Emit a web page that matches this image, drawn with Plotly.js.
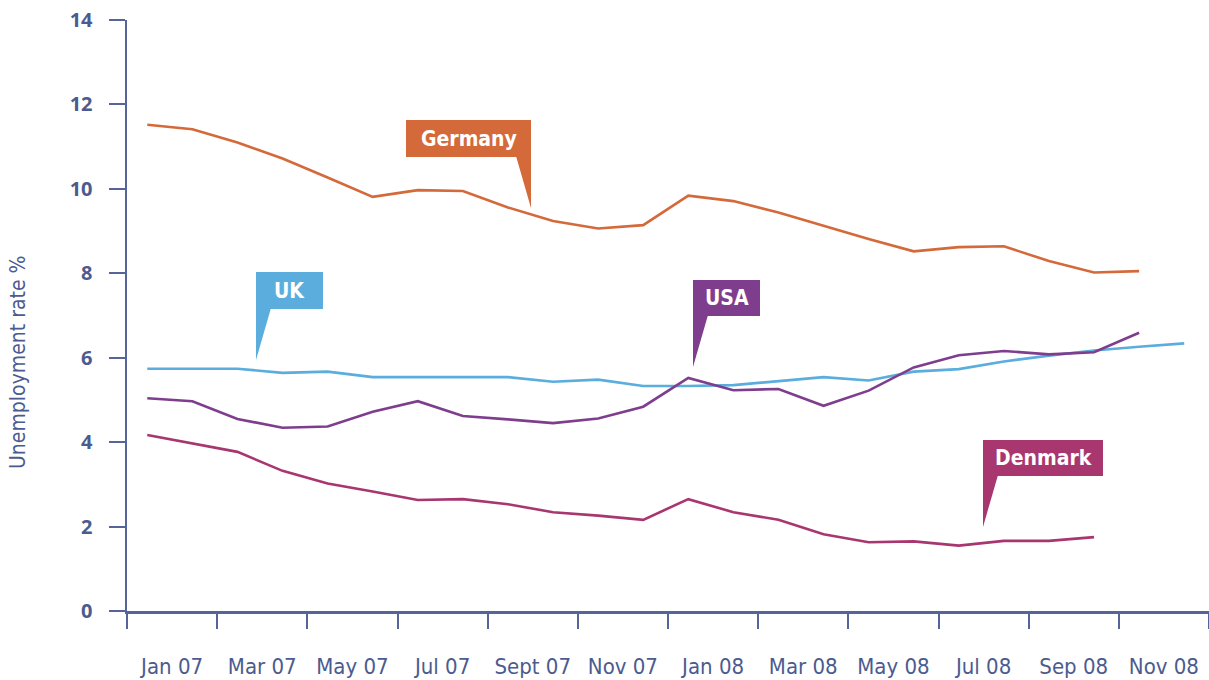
<!DOCTYPE html>
<html>
<head>
<meta charset="utf-8">
<script src="https://cdn.plot.ly/plotly-3.0.1.min.js"></script>
<style>
  body { margin: 0; background: #fff; }
  #chart { width: 1209px; height: 680px; }
</style>
</head>
<body>
<div id="chart"></div>
<script>
// monthly unemployment rate %, Jan 07 .. Dec 08
var months = ["Jan 07","Feb 07","Mar 07","Apr 07","May 07","Jun 07","Jul 07","Aug 07","Sep 07","Oct 07","Nov 07","Dec 07",
              "Jan 08","Feb 08","Mar 08","Apr 08","May 08","Jun 08","Jul 08","Aug 08","Sep 08","Oct 08","Nov 08","Dec 08"];
var germany = [11.52,11.41,11.10,10.72,10.27,9.81,9.97,9.95,9.56,9.24,9.06,9.14,9.84,9.71,9.44,9.12,8.81,8.52,8.62,8.64,8.29,8.02,8.05];
var uk      = [5.74,5.74,5.74,5.64,5.67,5.54,5.54,5.54,5.54,5.43,5.48,5.33,5.33,5.35,5.44,5.54,5.46,5.67,5.73,5.91,6.05,6.17,6.26,6.34];
var usa     = [5.04,4.97,4.55,4.34,4.37,4.72,4.97,4.62,4.54,4.45,4.56,4.84,5.52,5.23,5.26,4.86,5.22,5.77,6.06,6.16,6.08,6.13,6.59];
var denmark = [4.17,3.97,3.77,3.32,3.02,2.83,2.63,2.65,2.53,2.34,2.26,2.16,2.65,2.34,2.16,1.82,1.63,1.65,1.55,1.66,1.66,1.75];
var tickLabels = ["Jan 07","Mar 07","May 07","Jul 07","Sept 07","Nov 07","Jan 08","Mar 08","May 08","Jul 08","Sep 08","Nov 08"];

var axisCol = "#56649a";
var textCol = "#4b5b8f";
var narrow = "Liberation Sans Narrow, DejaVu Sans Condensed, sans-serif";

function idx(arr) { return arr.map(function(v, i) { return i; }); }

var tickPos = [], labelPos = [];
for (var k = 0; k <= 12; k++) tickPos.push(-0.45 + 2 * k);
for (var k = 0; k < tickLabels.length; k++) labelPos.push(0.55 + 2 * k);

function line(name, y, color) {
  return { x: idx(y), y: y, name: name, type: "scatter", mode: "lines",
           line: { color: color, width: 2.6 }, hoverinfo: "x+y+name" };
}

var data = [
  line("Germany", germany, "#d4693a"),
  line("UK", uk, "#5aaddd"),
  line("USA", usa, "#7e3e8d"),
  line("Denmark", denmark, "#a8366f"),
  { x: labelPos, y: labelPos.map(function() { return null; }), xaxis: "x2", mode: "markers",
    showlegend: false, hoverinfo: "skip" }
];

// plot area in pixels: left 127, right 1209, top 20, bottom 611
function px(x) { return (x - 127) / 1082; }
function py(y) { return (611 - y) / 591; }

var shapes = [], annotations = [];
function callout(text, color, x0, y0, x1, y1, tri) {
  shapes.push({ type: "rect", xref: "paper", yref: "paper", x0: px(x0), x1: px(x1), y0: py(y0), y1: py(y1),
                fillcolor: color, line: { width: 0 } });
  var p = "M" + px(tri[0][0]) + "," + py(tri[0][1]) + " L" + px(tri[1][0]) + "," + py(tri[1][1]) +
          " L" + px(tri[2][0]) + "," + py(tri[2][1]) + " Z";
  shapes.push({ type: "path", xref: "paper", yref: "paper", path: p, fillcolor: color, line: { width: 0 } });
  annotations.push({ xref: "paper", yref: "paper", x: px((x0 + x1) / 2), y: py((y0 + y1) / 2),
                     text: text, showarrow: false, xanchor: "center", yanchor: "middle",
                     font: { family: narrow, size: 21, color: "#ffffff", weight: "bold" } });
}
callout("Germany", "#d4693a", 406, 120, 531, 157, [[516, 156], [531, 156], [531, 208]]);
callout("UK", "#5aaddd", 256, 272, 323, 309, [[256, 308], [271, 308], [256, 360]]);
callout("USA", "#7e3e8d", 693, 280, 760, 316, [[693, 315], [708, 315], [693, 367]]);
callout("Denmark", "#a8366f", 983, 440, 1103, 476, [[983, 475], [998, 475], [983, 527]]);

annotations.push({ xref: "paper", yref: "paper", x: px(18), y: py(362), textangle: -90,
                   text: "Unemployment rate %", showarrow: false, xanchor: "center", yanchor: "middle",
                   font: { family: narrow, size: 21, color: textCol } });

var layout = {
  width: 1209, height: 680,
  margin: { l: 127, r: 0, t: 20, b: 69 },
  paper_bgcolor: "#ffffff", plot_bgcolor: "#ffffff",
  showlegend: false,
  xaxis: {
    range: [-0.45, 23.55], tickmode: "array", tickvals: tickPos, ticktext: tickPos.map(function() { return ""; }),
    ticks: "outside", ticklen: 15, tickwidth: 2, tickcolor: axisCol,
    showline: true, linecolor: axisCol, linewidth: 2.5, showgrid: false, zeroline: false, fixedrange: true
  },
  xaxis2: {
    overlaying: "x", anchor: "y", side: "bottom",
    range: [-0.45, 23.55], tickmode: "array", tickvals: labelPos, ticktext: tickLabels,
    ticks: "", showline: false, showgrid: false, zeroline: false, ticklabelstandoff: 40,
    tickfont: { family: narrow, size: 22, color: textCol }
  },
  yaxis: {
    range: [0, 14], tickmode: "array", tickvals: [0, 2, 4, 6, 8, 10, 12, 14],
    ticks: "outside", ticklen: 16, tickwidth: 2, tickcolor: axisCol, ticklabelstandoff: 12,
    showline: true, linecolor: axisCol, linewidth: 2.5, showgrid: false, zeroline: false,
    tickfont: { family: "Open Sans, sans-serif", size: 20, color: textCol, weight: "bold" }
  },
  shapes: shapes,
  annotations: annotations
};

Plotly.newPlot("chart", data, layout, { displayModeBar: false, staticPlot: true });
</script>
</body>
</html>
